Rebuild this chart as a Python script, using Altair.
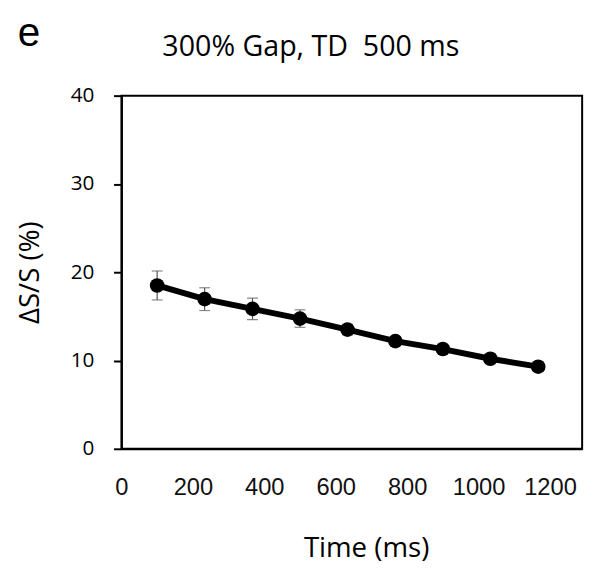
import altair as alt
import pandas as pd

time_ms = [100, 233, 367, 500, 633, 767, 900, 1033, 1167]
delta_s = [18.5, 16.95, 15.85, 14.75, 13.5, 12.2, 11.3, 10.2, 9.3]
err = [1.64, 1.29, 1.21, 0.99, 0.6, 0.5, 0.4, 0.4, 0.5]
x_ticks = [0, 200, 400, 600, 800, 1000, 1200]
y_ticks = [0, 10, 20, 30, 40]

df = pd.DataFrame({"t": time_ms, "v": delta_s, "e": err})
df["lo"] = df["v"] - df["e"]
df["hi"] = df["v"] + df["e"]

FONT = "Open Sans"

x_scale = alt.Scale(domain=[0, 1290], nice=False)
y_scale = alt.Scale(domain=[0, 40], nice=False)

x_axis = alt.Axis(
    values=x_ticks, format="d", title="Time (ms)", ticks=False, tickSize=0, grid=False,
    domainColor="black", domainWidth=2, labelFont="Liberation Sans",
    labelFontSize=24, labelColor="#111", labelPadding=27, labelFlush=False,
    titleFont=FONT, titleFontSize=28, titleFontWeight="normal",
    titleColor="black", titlePadding=36, titleX=248,
)
y_axis = alt.Axis(
    values=y_ticks, title="ΔS/S (%)", tickSize=8, tickWidth=2, tickColor="black",
    grid=False, domainColor="black", domainWidth=2, labelFont=FONT,
    labelFontSize=21, labelColor="black", labelPadding=20, labelFlush=False,
    titleFont=FONT, titleFontSize=28, titleFontWeight="normal",
    titleColor="black", titlePadding=26,
)

base = alt.Chart(df).encode(x=alt.X("t:Q", scale=x_scale, axis=x_axis))

bars = base.mark_rule(color="#555", strokeWidth=1.2).encode(
    y=alt.Y("lo:Q", scale=y_scale, axis=y_axis), y2="hi:Q"
)
cap_lo = base.mark_tick(orient="horizontal", size=11, thickness=1.2, color="#555").encode(
    y=alt.Y("lo:Q", scale=y_scale, axis=y_axis)
)
cap_hi = base.mark_tick(orient="horizontal", size=11, thickness=1.2, color="#555").encode(
    y=alt.Y("hi:Q", scale=y_scale, axis=y_axis)
)
line = base.mark_line(color="black", strokeWidth=6).encode(
    y=alt.Y("v:Q", scale=y_scale, axis=y_axis)
)
pts = base.mark_circle(size=220, color="black", opacity=1).encode(
    y=alt.Y("v:Q", scale=y_scale, axis=y_axis)
)
panel = alt.Chart(pd.DataFrame({"s": ["e"]})).mark_text(
    font="Liberation Sans", fontSize=41, align="left", baseline="alphabetic", color="black"
).encode(text="s:N", x=alt.value(-105), y=alt.value(-50))
title = alt.Chart(pd.DataFrame({"s": ["300% Gap, TD\u00a0 500 ms"]})).mark_text(
    font=FONT, fontSize=29, align="center", baseline="alphabetic", color="black"
).encode(text="s:N", x=alt.value(192), y=alt.value(-40))

chart = alt.layer(bars, cap_lo, cap_hi, line, pts, panel, title).properties(
    width=467, height=358,
    autosize=alt.AutoSizeParams(type="none"),
    padding={"left": 115, "top": 85, "right": 10, "bottom": 118},
).configure_view(stroke="black", strokeWidth=2)

chart.save("out.html", embed_options={"renderer": "svg", "actions": False})
